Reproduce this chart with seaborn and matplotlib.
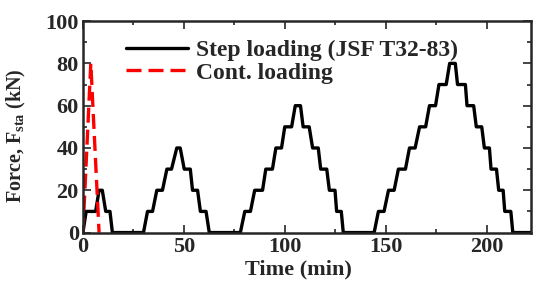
import matplotlib
matplotlib.use("Agg")
import matplotlib.pyplot as plt
import seaborn as sns
import pandas as pd
from matplotlib.ticker import MultipleLocator

# Step loading (JSF T32-83): time (min) and force (kN)
step_time = [0.0, 1.6, 6.3, 8.0, 9.6, 11.3, 13.4, 14.6,
             30.0, 32.0, 34.5, 36.6, 39.4, 41.6, 43.9, 46.5, 48.2, 50.2, 53.2, 54.3, 56.8, 58.2, 61.0, 62.6,
             78.0, 80.2, 83.0, 85.1, 89.0, 90.6, 93.9, 95.6, 98.4, 100.0, 103.4, 105.2, 107.8, 109.1, 112.1,
             113.8, 116.6, 117.8, 120.8, 122.1, 124.9, 125.7, 128.0, 129.0,
             144.3, 146.4, 149.2, 151.4, 154.2, 156.3, 159.8, 161.8, 164.6, 166.8, 169.8, 171.7, 174.7,
             176.4, 180.0, 181.7, 184.5, 185.6, 189.5, 190.3, 193.6, 194.9, 197.6, 198.9, 201.4, 202.2,
             204.9, 206.0, 208.2, 209.0, 212.0, 213.0, 222.0]
step_force = [0, 10, 10, 20, 20, 10, 10, 0,
              0, 10, 10, 20, 20, 30, 30, 40, 40, 30, 30, 20, 20, 10, 10, 0,
              0, 10, 10, 20, 20, 30, 30, 40, 40, 50, 50, 60, 60, 50, 50,
              40, 40, 30, 30, 20, 20, 10, 10, 0,
              0, 10, 10, 20, 20, 30, 30, 40, 40, 50, 50, 60, 60,
              70, 70, 80, 80, 70, 70, 60, 60, 50, 50, 40, 40, 30,
              30, 20, 20, 10, 10, 0, 0]

# Continuous loading
cont_time = [0.0, 3.9, 8.0]
cont_force = [0, 80, 0]

x_ticks = [0, 50, 100, 150, 200]
y_ticks = [0, 20, 40, 60, 80, 100]
labels = ["Step loading (JSF T32-83)", "Cont. loading"]

sns.set_style("ticks")
plt.rcParams["font.family"] = ["Liberation Serif", "DejaVu Serif"]
plt.rcParams["font.weight"] = "bold"
plt.rcParams["mathtext.fontset"] = "custom"
plt.rcParams["mathtext.rm"] = "Liberation Serif:bold"
plt.rcParams["mathtext.bf"] = "Liberation Serif:bold"
plt.rcParams["mathtext.it"] = "Liberation Serif:bold"

fig = plt.figure(figsize=(5.35, 2.85), dpi=100)
ax = fig.add_axes([0.155, 0.184, 0.8375, 0.742])

df_step = pd.DataFrame({"t": step_time, "F": step_force})
df_cont = pd.DataFrame({"t": cont_time, "F": cont_force})

dash = (0, (4.5, 2.1))
sns.lineplot(data=df_step, x="t", y="F", ax=ax, color="black", lw=2.4,
             sort=False, estimator=None, label=labels[0])
sns.lineplot(data=df_cont, x="t", y="F", ax=ax, color="red", lw=2.4,
             sort=False, estimator=None, label=labels[1], dashes=False)
ax.lines[1].set_linestyle(dash)

ax.set_xlim(0, 222)
ax.set_ylim(0, 100)
ax.set_xticks(x_ticks)
ax.set_yticks(y_ticks)
ax.xaxis.set_minor_locator(MultipleLocator(25))
ax.yaxis.set_minor_locator(MultipleLocator(10))
ax.tick_params(which="both", direction="in", top=True, right=True, width=1.2)
ax.tick_params(which="major", length=6, labelsize=16, pad=3)
ax.tick_params(which="minor", length=3)
for s in ax.spines.values():
    s.set_linewidth(1.8)
    s.set_visible(True)

for lbl in ax.get_xticklabels() + ax.get_yticklabels():
    lbl.set_fontweight("bold")

ax.set_xlabel("Time (min)", fontsize=16, fontweight="bold")
ax.xaxis.set_label_coords(0.482, -0.125)
ax.set_ylabel(r"Force, F$_{\rm sta}$ (kN)", fontsize=14.5, fontweight="bold")
ax.yaxis.set_label_coords(-0.122, 0.46)

leg = ax.legend(loc="upper left", bbox_to_anchor=(0.065, 0.98), frameon=False,
                prop={"family": "Liberation Serif", "weight": "bold", "size": 17},
                handlelength=2.6, handletextpad=0.35, labelspacing=0.05, borderaxespad=0.2)
leg.get_lines()[1].set_linestyle(dash)

fig.savefig("out.png", dpi=100)
